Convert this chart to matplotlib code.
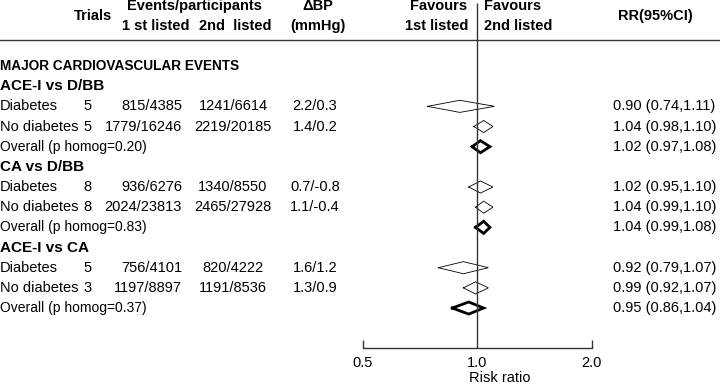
import numpy as np
import matplotlib.pyplot as plt
import matplotlib.transforms as mtransforms

groups = ["ACE-I vs D/BB", "CA vs D/BB", "ACE-I vs CA"]
subgroups = ["Diabetes", "No diabetes"]
trials = [[5, 5], [8, 8], [5, 3]]
events_1st = [["815/4385", "1779/16246"], ["936/6276", "2024/23813"], ["756/4101", "1197/8897"]]
events_2nd = [["1241/6614", "2219/20185"], ["1340/8550", "2465/27928"], ["820/4222", "1191/8536"]]
delta_bp = [["2.2/0.3", "1.4/0.2"], ["0.7/-0.8", "1.1/-0.4"], ["1.6/1.2", "1.3/0.9"]]
rr = [[0.90, 1.04], [1.02, 1.04], [0.92, 0.99]]
rr_lo = [[0.74, 0.98], [0.95, 0.99], [0.79, 0.92]]
rr_hi = [[1.11, 1.10], [1.10, 1.10], [1.07, 1.07]]
p_homog = ["0.20", "0.83", "0.37"]
overall_rr = [1.02, 1.04, 0.95]
overall_lo = [0.97, 0.99, 0.86]
overall_hi = [1.08, 1.08, 1.04]
ticks = [0.5, 1.0, 2.0]

plt.rcParams['font.family'] = ['Liberation Sans', 'DejaVu Sans']
FS = 10.5
LC = '#333333'

fig = plt.figure(figsize=(7.2, 3.86), dpi=100)
ax = fig.add_axes([0, 0, 1, 1])
ax.set_xscale('log', base=2)
# 0.5 -> px 362.7, 2.0 -> px 591.7
ppl = (591.7 - 362.7) / 2.0
x_one = 362.7 + ppl
ax.set_xlim(2 ** (-x_one / ppl), 2 ** ((720 - x_one) / ppl))
# rows: row 0 at pixel 66, 20.17 px per row
rh = 20.17
ax.set_ylim((386 - 66) / rh, -66 / rh)
ax.axis('off')

tr = mtransforms.blended_transform_factory(ax.transAxes, ax.transData)


def txt(xpx, y, s, ha='left', bold=False, size=FS):
    ax.text(xpx / 720, y, s, transform=tr, ha=ha, va='center', fontsize=size,
            fontweight='bold' if bold else 'normal', color='black')


def diamond(c, lo, hi, y, lw):
    h = 0.3
    ax.plot([lo, c, hi, c, lo], [y, y - h, y, y + h, y], color='black', lw=lw,
            solid_joinstyle='miter')


# header
txt(93, -2.48, "Trials", ha='center', bold=True)
txt(194, -2.97, "Events/participants", ha='center', bold=True)
txt(156, -1.98, "1 st listed", ha='center', bold=True)
txt(235, -1.98, "2nd  listed", ha='center', bold=True)
txt(318, -2.97, "ΔBP", ha='center', bold=True)
txt(318, -1.98, "(mmHg)", ha='center', bold=True)
txt(439, -2.97, "Favours", ha='center', bold=True)
txt(468, -1.98, "1st listed", ha='right', bold=True)
txt(484, -2.97, "Favours", bold=True)
txt(484, -1.98, "2nd listed", bold=True)
txt(655, -2.48, "RR(95%CI)", ha='center', bold=True)
ax.axhline(-1.29, color=LC, lw=1)

txt(0, 0, "MAJOR CARDIOVASCULAR EVENTS", bold=True, size=9.8)

row = 1
for g in range(len(groups)):
    txt(0, row, groups[g], bold=True, size=11)
    row += 1
    for s in range(len(subgroups)):
        txt(0, row, subgroups[s])
        txt(83, row, str(trials[g][s]))
        txt(182, row, events_1st[g][s], ha='right')
        txt(233, row, events_2nd[g][s], ha='center')
        txt(315, row, delta_bp[g][s], ha='center')
        txt(613, row, "%.2f (%.2f,%.2f)" % (rr[g][s], rr_lo[g][s], rr_hi[g][s]))
        diamond(rr[g][s], rr_lo[g][s], rr_hi[g][s], row, 0.6)
        row += 1
    txt(0, row, "Overall (p homog=%s)" % p_homog[g], size=10)
    txt(613, row, "%.2f (%.2f,%.2f)" % (overall_rr[g], overall_lo[g], overall_hi[g]))
    diamond(overall_rr[g], overall_lo[g], overall_hi[g], row, 2.0)
    row += 1

# x axis
axis_y = 13.98
ax.plot([ticks[0], ticks[-1]], [axis_y, axis_y], color=LC, lw=1)
ax.vlines([ticks[0], ticks[-1]], axis_y - 0.4, axis_y, color=LC, lw=1)
ax.vlines(1.0, -3.12, axis_y, color=LC, lw=1)
for t in ticks:
    ax.text(t, 14.72, "%.1f" % t, ha='center', va='center', fontsize=FS)
txt(500, 15.47, "Risk ratio", ha='center')

fig.savefig("out.png", dpi=100)
